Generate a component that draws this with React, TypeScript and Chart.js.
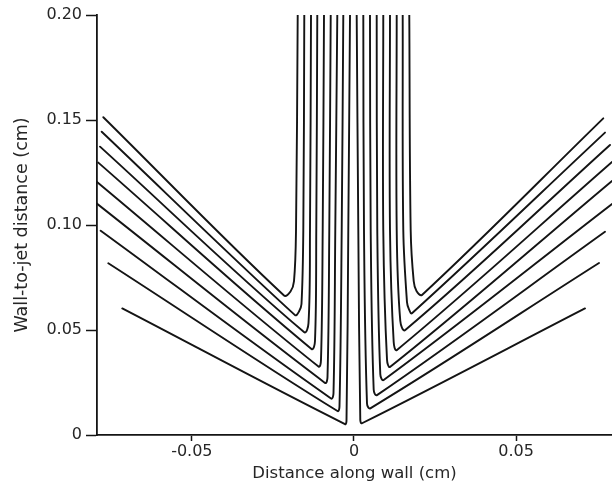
import React, { useEffect, useRef } from 'react';
import { Chart, registerables } from 'chart.js';

Chart.register(...registerables);

// Axis ticks and titles
const xTickValues = [-0.05, 0, 0.05];
const xTickLabels = ['-0.05', '0', '0.05'];
const yTickValues = [0, 0.05, 0.1, 0.15, 0.2];
const yTickLabels = ['0', '0.05', '0.10', '0.15', '0.20'];
const xAxisTitle = 'Distance along wall (cm)';
const yAxisTitle = 'Wall-to-jet distance (cm)';

// Streamlines on the left, outermost to innermost: [x (cm), y (cm)]
const streamL1 = [[-0.01736, 0.2], [-0.01788, 0.0976], [-0.0185, 0.0733], [-0.01958, 0.0683], [-0.02158, 0.0664], [-0.0773, 0.1513]];
const streamL2 = [[-0.01533, 0.2], [-0.01563, 0.0976], [-0.01619, 0.0624], [-0.01696, 0.0588], [-0.01819, 0.0571], [-0.0778, 0.1444]];
const streamL3 = [[-0.01326, 0.2], [-0.01357, 0.0976], [-0.01403, 0.0533], [-0.01542, 0.049], [-0.07832, 0.1373]];
const streamL4 = [[-0.01132, 0.2], [-0.01163, 0.0976], [-0.01203, 0.0448], [-0.01311, 0.041], [-0.07885, 0.1297]];
const streamL5 = [[-0.00925, 0.2], [-0.00965, 0.0976], [-0.01018, 0.0357], [-0.01095, 0.0326], [-0.07934, 0.1206]];
const streamL6 = [[-0.00718, 0.2], [-0.00762, 0.0976], [-0.00817, 0.0276], [-0.00894, 0.0248], [-0.0794, 0.1103]];
const streamL7 = [[-0.00515, 0.2], [-0.00577, 0.0976], [-0.00632, 0.02], [-0.00709, 0.0174], [-0.07811, 0.0973]];
const streamL8 = [[-0.0033, 0.2], [-0.00379, 0.0976], [-0.00447, 0.0138], [-0.00509, 0.0114], [-0.07576, 0.0818]];
const streamL9 = [[-0.00123, 0.2], [-0.00176, 0.0976], [-0.00231, 0.0069], [-0.00278, 0.0052], [-0.07145, 0.0603]];

// Streamlines on the right, innermost to outermost
const streamR1 = [[0.00083, 0.2], [0.00133, 0.0976], [0.00194, 0.0071], [0.00247, 0.0056], [0.07123, 0.0603]];
const streamR2 = [[0.00287, 0.2], [0.00308, 0.0976], [0.00401, 0.015], [0.00503, 0.0127], [0.07555, 0.0819]];
const streamR3 = [[0.00493, 0.2], [0.00515, 0.0976], [0.00607, 0.0217], [0.00709, 0.019], [0.0774, 0.0968]];
const streamR4 = [[0.007, 0.2], [0.00718, 0.0976], [0.00811, 0.029], [0.00916, 0.0262], [0.07956, 0.11]];
const streamR5 = [[0.00903, 0.2], [0.00903, 0.0976], [0.01018, 0.0359], [0.01119, 0.0325], [0.07956, 0.121]];
const streamR6 = [[0.0111, 0.2], [0.0111, 0.0976], [0.01224, 0.0443], [0.01326, 0.0405], [0.07956, 0.13]];
const streamR7 = [[0.01317, 0.2], [0.01317, 0.0976], [0.01428, 0.0543], [0.01582, 0.05], [0.07894, 0.1381]];
const streamR8 = [[0.01502, 0.2], [0.0152, 0.0976], [0.01634, 0.0633], [0.01696, 0.0598], [0.01788, 0.058], [0.0774, 0.144]];
const streamR9 = [[0.01705, 0.2], [0.01748, 0.0976], [0.01841, 0.0733], [0.01927, 0.0686], [0.02097, 0.0667], [0.07687, 0.1508]];

const streamlines = [
  streamL1, streamL2, streamL3, streamL4, streamL5, streamL6, streamL7, streamL8, streamL9,
  streamR1, streamR2, streamR3, streamR4, streamR5, streamR6, streamR7, streamR8, streamR9,
];

const X_MIN = -0.07925;
const X_MAX = 0.07956;
const Y_MIN = 0;
const Y_MAX = 0.2;

const FAMILY = '"DejaVu Sans", sans-serif';
const TICK_FONT = { family: FAMILY, size: 16 };
const X_TITLE_FONT = { family: FAMILY, size: 16.5 };
const Y_TITLE_FONT = { family: FAMILY, size: 17.5 };
const TEXT = '#262626';
const INK = '#141414';

export default function App() {
  const ref = useRef<HTMLCanvasElement | null>(null);

  useEffect(() => {
    if (!ref.current) return;
    const datasets = streamlines.map((pts) => ({
      data: pts.map(([x, y]) => ({ x, y })),
      showLine: true,
      borderColor: INK,
      backgroundColor: INK,
      borderWidth: 1.9,
      pointRadius: 0,
      pointHoverRadius: 0,
      tension: 0.35,
      fill: false,
      borderCapStyle: 'round' as const,
      borderJoinStyle: 'round' as const,
    }));

    const chart = new Chart(ref.current, {
      type: 'scatter',
      data: { datasets },
      options: {
        responsive: false,
        devicePixelRatio: 1,
        animation: false,
        events: [],
        layout: { padding: { top: 15, right: 0, left: 0, bottom: 0 } },
        plugins: {
          legend: { display: false },
          tooltip: { enabled: false },
        },
        scales: {
          x: {
            type: 'linear',
            min: X_MIN,
            max: X_MAX,
            afterBuildTicks: (s: any) => {
              s.ticks = xTickValues.map((v) => ({ value: v }));
            },
            afterFit: (s: any) => {
              s.height = 50;
            },
            ticks: {
              autoSkip: false,
              maxRotation: 0,
              padding: 1,
              color: TEXT,
              font: TICK_FONT,
              callback: (v: any) => {
                const i = xTickValues.findIndex((t) => Math.abs(t - Number(v)) < 1e-9);
                return i >= 0 ? xTickLabels[i] : '';
              },
            },
            grid: {
              display: true,
              drawOnChartArea: false,
              drawTicks: true,
              tickLength: 6,
              tickWidth: 1.5,
              tickColor: INK,
              color: INK,
            },
            border: { display: true, color: INK, width: 1.8 },
            title: {
              display: true,
              text: xAxisTitle,
              color: TEXT,
              font: X_TITLE_FONT,
              padding: { top: 0, bottom: 1 },
            },
          },
          y: {
            type: 'linear',
            min: Y_MIN,
            max: Y_MAX,
            afterBuildTicks: (s: any) => {
              s.ticks = yTickValues.map((v) => ({ value: v }));
            },
            afterFit: (s: any) => {
              s.width = 97;
            },
            ticks: {
              autoSkip: false,
              padding: 4,
              color: TEXT,
              font: TICK_FONT,
              callback: (v: any) => {
                const i = yTickValues.findIndex((t) => Math.abs(t - Number(v)) < 1e-9);
                return i >= 0 ? yTickLabels[i] : '';
              },
            },
            grid: {
              display: true,
              drawOnChartArea: false,
              drawTicks: true,
              tickLength: 11,
              tickWidth: 1.5,
              tickColor: INK,
              color: INK,
            },
            border: { display: true, color: INK, width: 1.8 },
            title: {
              display: true,
              text: yAxisTitle,
              color: TEXT,
              font: Y_TITLE_FONT,
              padding: { top: 12, bottom: 0 },
            },
          },
        },
      },
    });
    return () => chart.destroy();
  }, []);

  return (
    <div style={{ position: 'fixed', left: 0, top: 0, width: 612, height: 485, background: '#ffffff' }}>
      <canvas ref={ref} width={612} height={485} style={{ width: 612, height: 485, display: 'block' }} />
    </div>
  );
}
